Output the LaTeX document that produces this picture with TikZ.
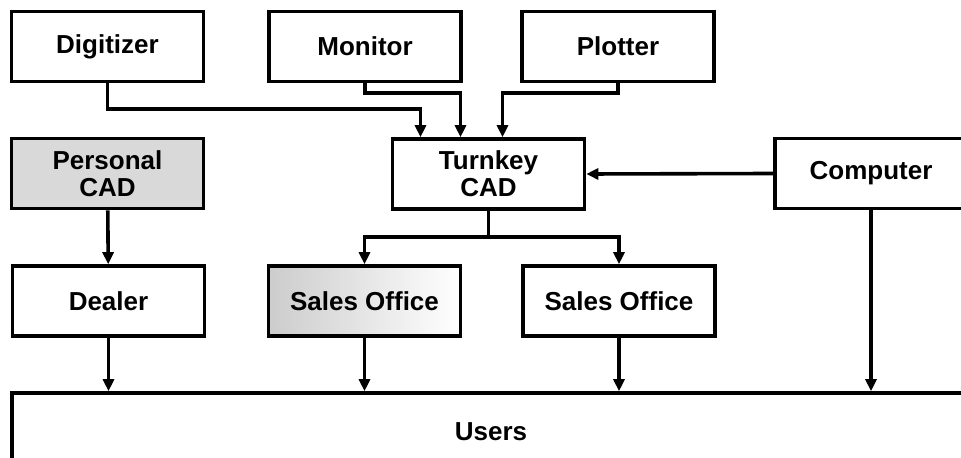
\documentclass[tikz,border=0pt]{standalone}
\usepackage{fontspec}
\setmainfont{Liberation Sans}
\usetikzlibrary{arrows.meta}

\tikzstyle{block} = [rectangle, draw, line width=1.8pt,
	minimum width=96pt, minimum height=35pt, inner sep=0pt,
	align=center, font=\fontsize{13}{13.5}\selectfont\bfseries]
\tikzstyle{link} = [line width=1.8pt, -{Triangle[length=6pt,width=5.5pt]}]

\begin{document}
\begin{tikzpicture}[x=0.5pt, y=-0.5pt]
	\useasboundingbox (0,0) rectangle (961,458);
	
	\node [block] (DG) at (107.5,46.5) {Digitizer};
	\node [block] (MN) at (365,46.5) {Monitor};
	\node [block] (PL) at (618,46.5) {Plotter};
	\node [block, fill=gray!30] (PC) at (107.5,173.5) {Personal\\CAD};
	\node [block] (TC) at (488.5,174) {Turnkey\\CAD};
	\node [block] (CP) at (871,173.5) {Computer};
	\node [block] (DL) at (108.5,301) {Dealer};
	\node [block, left color=gray!40, right color=white] (SA) at (364.5,301) {Sales Office};
	\node [block] (SB) at (619,301) {Sales Office};
	\node [block, minimum width=479pt, minimum height=38.5pt] (US) at (491,431.5) {Users};
	
	% into the turnkey system
	\draw [link] (DG.south) |- ([xshift=-34pt, yshift=14pt]TC.north) -- ([xshift=-34pt]TC.north);
	\draw [link] (MN.south) |- ([xshift=-14pt, yshift=22pt]TC.north) -- ([xshift=-14pt]TC.north);
	\draw [link] (PL.south) |- ([xshift=7pt, yshift=22pt]TC.north) -- ([xshift=7pt]TC.north);
	\draw [link] (CP.west) -- (TC.east);
	
	% out to the sales offices
	\draw [link] (TC.south) -- ++(0,26) -| (SA.north);
	\draw [link] (TC.south) -- ++(0,26) -| (SB.north);
	\draw [link] (PC) -- (DL);
	
	% down to the users
	\draw [link] (DL.south) -- (DL.south |- US.north);
	\draw [link] (SA.south) -- (SA.south |- US.north);
	\draw [link] (SB.south) -- (SB.south |- US.north);
	\draw [link] (CP.south) -- (CP.south |- US.north);
\end{tikzpicture}
\end{document}
